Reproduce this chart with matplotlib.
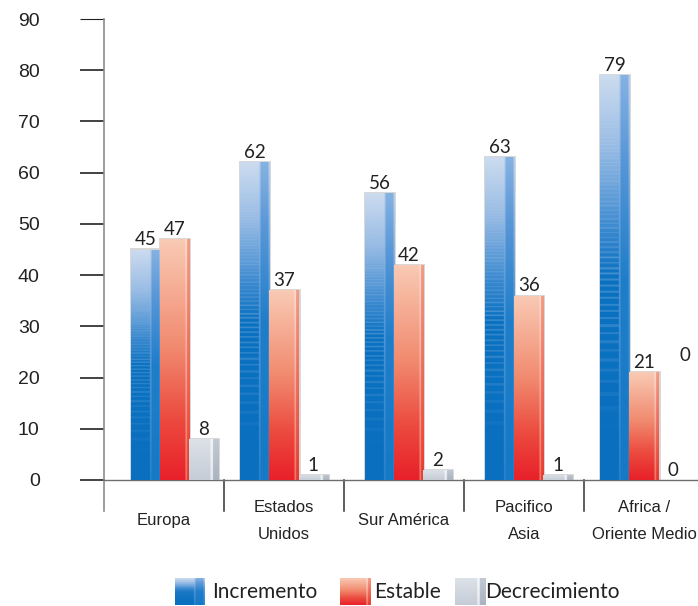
import numpy as np
import matplotlib.pyplot as plt
from matplotlib.colors import to_rgb
from matplotlib.transforms import blended_transform_factory, offset_copy

# ---- data -------------------------------------------------------------
categories = ["Europa", "Estados\nUnidos", "Sur América", "Pacifico\nAsia",
              "Africa /\nOriente Medio"]
incremento = [45, 62, 56, 63, 79]
estable = [47, 37, 42, 36, 21]
decrecimiento = [8, 1, 2, 1, 0]
series_names = ["Incremento", "Estable", "Decrecimiento"]
y_ticks = [0, 10, 20, 30, 40, 50, 60, 70, 80, 90]
extra_label = "0"

# ---- layout -----------------------------------------------------------
W, H = 698, 606
bar_w = 0.242
group_shift = [0.09, 0.0, 0.04, 0.04, 0.0]

num_font = ["Lato", "DejaVu Sans"]
axis_font = ["Liberation Sans", "DejaVu Sans"]


def ramp(stops, v):
    pos = [p for p, _ in stops]
    cols = np.array([to_rgb(c) for _, c in stops])
    return np.stack([np.interp(v, pos, cols[:, k]) for k in range(3)], axis=-1)


def shade(kind, ny=400, nx=60):
    v = np.linspace(0, 1, ny)[:, None] * np.ones((1, nx))
    u = np.ones((ny, 1)) * np.linspace(0, 1, nx)[None, :]
    if kind == "blue":
        img = ramp([(0, "#0a6fbf"), (0.5, "#0b71c1"), (0.62, "#3a89cf"),
                    (0.82, "#97bbe4"), (1, "#cddcef")], v)
        # light horizontal lines, sparse low down and dense near the top
        phase = 70 * v ** 2
        line = (phase % 1.0) < 0.3
        amp = np.where(v > 0.55, 0.16, np.clip((v - 0.12) / 0.43, 0, 1) * 0.3)
        light = np.array(to_rgb("#bcd4ef"))
        img = np.where(line[..., None], img * (1 - amp[..., None]) + light * amp[..., None], img)
        strip = ramp([(0, "#1579c6"), (0.5, "#1f7eca"), (0.8, "#5a97d7"),
                      (1, "#86b2e2")], v)
        hl = ramp([(0, "#2c85cc"), (0.6, "#5d9bd8"), (1, "#b8d1ee")], v)
        img = np.where((u > 0.66)[..., None], strip, img)
        img = np.where(((u > 0.64) & (u < 0.69))[..., None], hl, img)
        img = np.where((u > 0.95)[..., None], hl, img)
    elif kind == "red":
        img = ramp([(0, "#e8202a"), (0.25, "#ec4a3e"), (0.55, "#f18a6f"),
                    (1, "#f9cab4")], v)
        hl = ramp([(0, "#f27c68"), (1, "#fde3d8")], v)
        strip = ramp([(0, "#e83a30"), (1, "#f39c84")], v)
        img = np.where((u > 0.86)[..., None], hl, img)
        img = np.where((u > 0.90)[..., None], strip, img)
    else:
        img = ramp([(0, "#c5ccd6"), (1, "#dde2e9")], v)
        hl = ramp([(0, "#e6eaef"), (1, "#f4f6f8")], v)
        strip = ramp([(0, "#a9b3bf"), (1, "#c2c9d2")], v)
        img = np.where((u > 0.72)[..., None], hl, img)
        img = np.where((u > 0.80)[..., None], strip, img)
    return img


fig = plt.figure(figsize=(W / 100, H / 100), dpi=100)
ax = fig.add_axes([104 / W, (H - 480) / H, (W - 104) / W, 461 / H])

x = np.arange(len(categories)) + np.array(group_shift)
series = [incremento, estable, decrecimiento]
kinds = ["blue", "red", "grey"]
images = {k: shade(k) for k in kinds}

for j, (vals, kind) in enumerate(zip(series, kinds)):
    xs = x + (j - 1) * bar_w
    bars = ax.bar(xs, vals, width=bar_w, facecolor="#d6d6d6",
                  edgecolor="#d4d4d4", linewidth=2.0, zorder=2)
    for rect, val in zip(bars, vals):
        if val <= 0:
            rect.set_visible(False)
            continue
        x0, y0 = rect.get_x(), rect.get_y()
        im = ax.imshow(images[kind], origin="lower", aspect="auto",
                       extent=(x0, x0 + rect.get_width(), y0, y0 + rect.get_height()),
                       interpolation="bilinear", zorder=3)
        im.set_clip_path(rect)
    for xi, val in zip(xs, vals):
        ax.annotate(str(val), (xi, val), xytext=(0, 3), textcoords="offset points",
                    ha="center", va="baseline", fontsize=13.5, color="#222222",
                    family=num_font, zorder=5)

# lone label near the last group
ax.text(x[-1] + 0.34, 23.2, extra_label, ha="center", va="baseline",
        fontsize=13.5, color="#222222", family=num_font)

ax.set_xlim(-0.5, -0.5 + (W - 104) / 120)
ax.set_ylim(0, 90)

# axes styling
for s in ["top", "right"]:
    ax.spines[s].set_visible(False)
ax.spines["left"].set_color("#8c8c8c")
ax.spines["left"].set_linewidth(1.2)
ax.spines["bottom"].set_color("#6e6e6e")
ax.spines["bottom"].set_linewidth(1.0)
ax.set_xticks([])
ax.set_yticks(y_ticks)
ax.tick_params(axis="y", direction="out", length=17.3, width=1.2, color="#222222",
               pad=29, labelsize=14, labelcolor="#222222")
for lab in ax.get_yticklabels():
    lab.set_family(axis_font)
ax.yaxis.get_major_ticks()[-1].tick1line.set_color("#9a9a9a")
ax.yaxis.get_major_ticks()[-1].tick1line.set_markeredgewidth(0.8)

# category separators below the axis
trans = blended_transform_factory(ax.transData, ax.transAxes)
for i in range(len(categories)):
    b = i - 0.5
    ax.plot([b, b], [0, -0.067], transform=trans, color="#333333" if i else "#8c8c8c",
            lw=1.1 if i else 1.2, clip_on=False, zorder=1)

lab_trans = offset_copy(trans, fig=fig, y=-29.5, units="points")
for i, cat in enumerate(categories):
    ax.text(i, 0, cat, transform=lab_trans, ha="center", va="center",
            fontsize=12, color="#222222", family=axis_font, linespacing=2.05)

# legend
legend_boxes = [(175, "Incremento", 212), (340, "Estable", 374), (455, "Decrecimiento", 485)]
for (sx, name, tx), kind in zip(legend_boxes, kinds):
    sax = fig.add_axes([sx / W, (H - 605) / H, 30 / W, 27 / H])
    sax.imshow(images[kind], origin="lower", aspect="auto", interpolation="bilinear")
    sax.axis("off")
    fig.text(tx / W, (H - 592) / H, name, ha="left", va="center",
             fontsize=15, color="#222222", family=num_font)

fig.savefig("out.png", dpi=100)
